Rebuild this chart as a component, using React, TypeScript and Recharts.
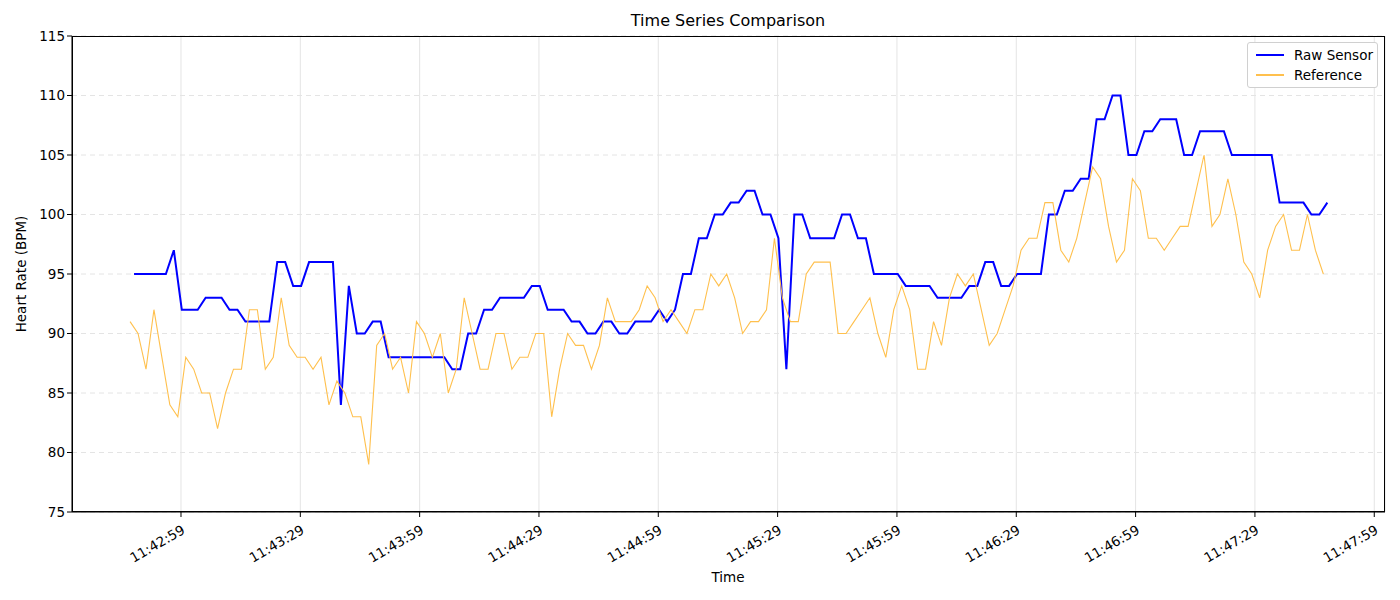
import { LineChart, Line, XAxis, YAxis, CartesianGrid } from "recharts";

// seconds since midnight; 11:42:59 = 42179
const refStart = 42166.2;
const rawStart = 42167.2;
const step = 2;

const rawValues = [
  95, 95, 95, 95, 95, 97, 92, 92, 92, 93, 93, 93, 92, 92, 91, 91, 91, 91, 96, 96,
  94, 94, 96, 96, 96, 96, 84, 94, 90, 90, 91, 91, 88, 88, 88, 88, 88, 88, 88, 88,
  87, 87, 90, 90, 92, 92, 93, 93, 93, 93, 94, 94, 92, 92, 92, 91, 91, 90, 90, 91,
  91, 90, 90, 91, 91, 91, 92, 91, 92, 95, 95, 98, 98, 100, 100, 101, 101, 102, 102, 100,
  100, 98, 87, 100, 100, 98, 98, 98, 98, 100, 100, 98, 98, 95, 95, 95, 95, 94, 94, 94,
  94, 93, 93, 93, 93, 94, 94, 96, 96, 94, 94, 95, 95, 95, 95, 100, 100, 102, 102, 103,
  103, 108, 108, 110, 110, 105, 105, 107, 107, 108, 108, 108, 105, 105, 107, 107, 107, 107, 105, 105,
  105, 105, 105, 105, 101, 101, 101, 101, 100, 100, 101,
];

const refValues = [
  91, 90, 87, 92, 88, 84, 83, 88, 87, 85, 85, 82, 85, 87, 87, 92, 92, 87, 88, 93,
  89, 88, 88, 87, 88, 84, 86, 85, 83, 83, 79, 89, 90, 87, 88, 85, 91, 90, 88, 90,
  85, 87, 93, 90, 87, 87, 90, 90, 87, 88, 88, 90, 90, 83, 87, 90, 89, 89, 87, 89,
  93, 91, 91, 91, 92, 94, 93, 91, 92, 91, 90, 92, 92, 95, 94, 95, 93, 90, 91, 91,
  92, 98, 93, 91, 91, 95, 96, 96, 96, 90, 90, 91, 92, 93, 90, 88, 92, 94, 92, 87,
  87, 91, 89, 93, 95, 94, 95, 92, 89, 90, 92, 94, 97, 98, 98, 101, 101, 97, 96, 98,
  101, 104, 103, 99, 96, 97, 103, 102, 98, 98, 97, 98, 99, 99, 102, 105, 99, 100, 103, 100,
  96, 95, 93, 97, 99, 100, 97, 97, 100, 97, 95,
];

const xTicks = [42179, 42209, 42239, 42269, 42299, 42329, 42359, 42389, 42419, 42449, 42479];
const yTicks = [75, 80, 85, 90, 95, 100, 105, 110, 115];

const rawData = rawValues.map((v, i) => ({ t: rawStart + i * step, v }));
const refData = refValues.map((v, i) => ({ t: refStart + i * step, v }));

const font = "DejaVu Sans, sans-serif";

const fmtTime = (s: number) => {
  const h = Math.floor(s / 3600);
  const m = Math.floor((s % 3600) / 60);
  const sec = Math.round(s % 60);
  const p = (n: number) => String(n).padStart(2, "0");
  return `${p(h)}:${p(m)}:${p(sec)}`;
};

const TimeTick = (props: any) => {
  const { x, y, payload } = props;
  return (
    <g transform={`translate(${x},${y + 5})`}>
      <text
        textAnchor="end"
        transform="rotate(-30)"
        fontSize={13.5}
        fontFamily={font}
        fill="#000"
        dy={10}
      >
        {fmtTime(payload.value)}
      </text>
    </g>
  );
};

export default function App() {
  return (
    <div style={{ position: "absolute", left: 0, top: 0, width: 1400, height: 600, background: "#fff", fontFamily: font }}>
      <div style={{ position: "absolute", top: 11, width: 1400, left: 28, textAlign: "center", fontSize: 16 }}>
        Time Series Comparison
      </div>
      <div style={{ position: "absolute", top: 569, width: 1400, left: 28, textAlign: "center", fontSize: 13.5 }}>
        Time
      </div>
      <div
        style={{
          position: "absolute",
          left: 21,
          top: 274,
          fontSize: 13.5,
          transform: "translate(-50%, -50%) rotate(-90deg)",
          whiteSpace: "nowrap",
        }}
      >
        Heart Rate (BPM)
      </div>
      <LineChart width={1400} height={600} margin={{ top: 36, right: 15, bottom: 28, left: 22 }}>
        <CartesianGrid vertical={false} stroke="#e4e4e4" strokeDasharray="5 4" />
        <CartesianGrid horizontal={false} stroke="#e4e4e4" />
        <XAxis
          type="number"
          dataKey="t"
          domain={[42151.6, 42481.7]}
          ticks={xTicks}
          allowDataOverflow
          height={60}
          tick={<TimeTick />}
          stroke="#000"
          tickSize={5}
        />
        <YAxis
          type="number"
          domain={[75, 115]}
          ticks={yTicks}
          width={50}
          stroke="#000"
          tickSize={5}
          tick={{ fontSize: 13.5, fontFamily: font, fill: "#000" }}
        />
        <Line
          data={rawData}
          dataKey="v"
          type="linear"
          stroke="#0000ff"
          strokeWidth={2}
          dot={false}
          isAnimationActive={false}
        />
        <Line
          data={refData}
          dataKey="v"
          type="linear"
          stroke="#ffc04d"
          strokeWidth={1.1}
          dot={false}
          isAnimationActive={false}
        />
      </LineChart>
      {/* plot frame (top/right spines) */}
      <div
        style={{
          position: "absolute",
          left: 72,
          top: 36,
          width: 1313,
          height: 476,
          border: "1px solid #000",
          boxSizing: "border-box",
          pointerEvents: "none",
        }}
      />
      <div
        style={{
          position: "absolute",
          left: 1247,
          top: 42,
          width: 131,
          height: 46,
          border: "1px solid #d0d0d0",
          borderRadius: 3,
          background: "#fff",
          fontSize: 13.5,
          boxSizing: "border-box",
        }}
      >
        <div style={{ position: "absolute", left: 8, top: 4, display: "flex", alignItems: "center" }}>
          <span style={{ display: "inline-block", width: 28, height: 2, background: "#0000ff", marginRight: 10 }} />
          Raw Sensor
        </div>
        <div style={{ position: "absolute", left: 8, top: 24, display: "flex", alignItems: "center" }}>
          <span style={{ display: "inline-block", width: 28, height: 1.5, background: "#ffc04d", marginRight: 10 }} />
          Reference
        </div>
      </div>
    </div>
  );
}
